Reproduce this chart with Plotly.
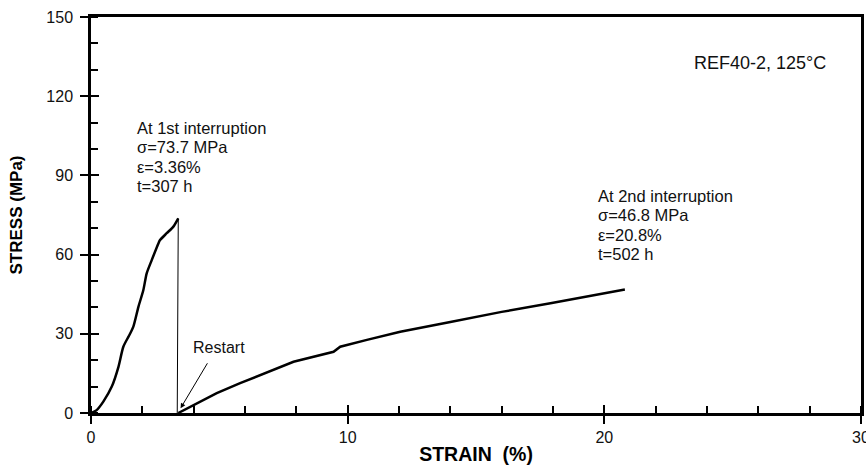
import plotly.graph_objects as go

# Loading before the 1st interruption
strain_1 = [0, 0.22, 0.48, 0.81, 1.07, 1.26, 1.46, 1.52, 1.65, 1.85, 2.04, 2.17, 2.37, 2.63, 2.69, 2.95, 3.21, 3.40]
stress_1 = [0, 1.1, 4.3, 10.0, 17.5, 25.1, 28.9, 30.0, 32.7, 40.3, 46.6, 52.9, 58.0, 64.3, 65.5, 68.1, 70.6, 73.7]

# Unloading at the interruption
strain_drop = [3.40, 3.36]
stress_drop = [73.7, 0]

# Reloading after restart up to the 2nd interruption
strain_2 = [3.40, 3.99, 4.90, 5.81, 6.59, 7.89, 9.45, 9.60, 9.71, 10.75, 12.05, 14.0, 16.0, 17.9, 20.0, 20.8]
stress_2 = [0, 3.0, 7.5, 11.3, 14.4, 19.4, 23.2, 24.3, 25.1, 27.7, 30.8, 34.5, 38.3, 41.6, 45.3, 46.8]

x_major = [0, 10, 20, 30]
y_major = [0, 30, 60, 90, 120, 150]

note_1 = ["At 1st interruption", "σ=73.7 MPa", "ε=3.36%", "t=307 h"]
note_2 = ["At 2nd interruption", "σ=46.8 MPa", "ε=20.8%", "t=502 h"]

FONT = "Liberation Sans, Arial, sans-serif"

fig = go.Figure()
fig.add_trace(go.Scatter(x=strain_1, y=stress_1, mode="lines",
                         line=dict(color="black", width=2.5, shape="spline", smoothing=0.7),
                         hoverinfo="skip"))
fig.add_trace(go.Scatter(x=strain_drop, y=stress_drop, mode="lines",
                         line=dict(color="black", width=1), hoverinfo="skip"))
fig.add_trace(go.Scatter(x=strain_2, y=stress_2, mode="lines",
                         line=dict(color="black", width=2.5), hoverinfo="skip"))
# invisible trace to activate the overlay axes (inner half of major ticks)
fig.add_trace(go.Scatter(x=strain_drop, y=stress_drop, mode="lines", xaxis="x2", yaxis="y2",
                         line=dict(color="rgba(0,0,0,0)", width=0), hoverinfo="skip"))

common_axis = dict(showgrid=False, zeroline=False, linecolor="black", linewidth=2.5,
                   tickcolor="black", tickwidth=1.5, ticklen=8, ticks="outside",
                   ticklabeloverflow="allow", automargin=False,
                   tickfont=dict(family=FONT, size=16, color="#111"))

fig.update_layout(
    width=866, height=471,
    margin=dict(l=91, r=5, t=17, b=58),
    paper_bgcolor="white", plot_bgcolor="white",
    showlegend=False,
    xaxis=dict(range=[0, 30], tickvals=x_major, mirror=True,
               minor=dict(dtick=2, ticks="inside", ticklen=7, tickwidth=1.5, tickcolor="black"),
               title=dict(text="<b>STRAIN  (%)</b>", font=dict(family=FONT, size=19.5, color="black"),
                          standoff=3),
               **common_axis),
    yaxis=dict(range=[0, 150], tickvals=y_major, mirror=True,
               minor=dict(dtick=10, ticks="inside", ticklen=7, tickwidth=1.5, tickcolor="black"),
               ticklabelstandoff=4,
               title=dict(text="<b>STRESS (MPa)</b>", font=dict(family=FONT, size=17, color="black"),
                          standoff=20),
               **common_axis),
    xaxis2=dict(range=[0, 30], overlaying="x", anchor="y", tickvals=x_major, ticks="inside",
                ticklen=8, tickwidth=1.5, tickcolor="black", showticklabels=False,
                showgrid=False, zeroline=False, showline=False),
    yaxis2=dict(range=[0, 150], overlaying="y", anchor="x", tickvals=y_major, ticks="inside",
                ticklen=8, tickwidth=1.5, tickcolor="black", showticklabels=False,
                showgrid=False, zeroline=False, showline=False),
)

LINE_STEP = 7.35  # stress units between text lines
for i, line in enumerate(note_1):
    fig.add_annotation(x=1.71, y=108 - i * LINE_STEP, xref="x", yref="y",
                       xanchor="left", yanchor="middle", showarrow=False, text=line,
                       font=dict(family=FONT, size=16.5, color="#111"))
for i, line in enumerate(note_2):
    fig.add_annotation(x=19.67, y=82.2 - i * LINE_STEP, xref="x", yref="y",
                       xanchor="left", yanchor="middle", showarrow=False, text=line,
                       font=dict(family=FONT, size=16.5, color="#111"))
fig.add_annotation(x=23.4, y=132.6, xref="x", yref="y", xanchor="left", yanchor="middle",
                   showarrow=False, text="REF40-2, 125°C",
                   font=dict(family=FONT, size=18, color="#111"))
fig.add_annotation(x=4.99, y=25, xref="x", yref="y", xanchor="center", yanchor="middle",
                   showarrow=False, text="Restart",
                   font=dict(family=FONT, size=16, color="#111"))
fig.add_annotation(x=3.49, y=1.8, xref="x", yref="y", ax=4.57, ay=19.4, axref="x", ayref="y",
                   text="", showarrow=True, arrowhead=2, arrowsize=1, arrowwidth=1,
                   arrowcolor="black", standoff=0, startstandoff=0)

fig.write_html("out.html")
